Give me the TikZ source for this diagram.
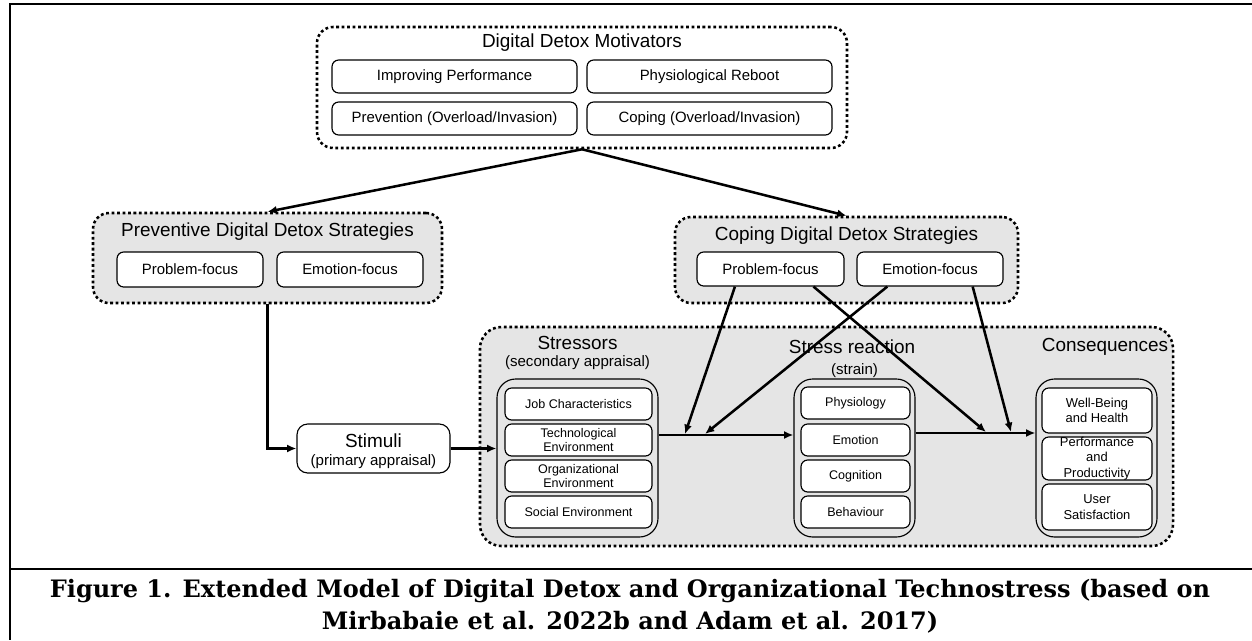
\documentclass[tikz,border=0pt]{standalone}
\usepackage{fontspec}
\setmainfont{Liberation Sans}
\newfontfamily\capfont{DejaVu Serif}
\usetikzlibrary{arrows.meta,calc}

\begin{document}
\begin{tikzpicture}[x=0.75pt,y=-0.75pt,
  sz/.style 2 args={minimum width=#1*0.75pt, minimum height=#2*0.75pt, inner sep=0pt},
  dotbox/.style={draw, line width=1.9pt, dash pattern=on 2.1pt off 2pt, rounded corners=12pt},
  panel/.style={dotbox, fill=black!10},
  ibox/.style={draw, fill=white, line width=0.85pt, rounded corners=5pt, align=center},
  cont/.style={draw, line width=0.85pt, rounded corners=14pt},
  ttl/.style={font=\fontsize{14.2pt}{16pt}\selectfont, inner sep=0pt},
  sub/.style={font=\fontsize{11.3pt}{13pt}\selectfont, inner sep=0pt},
  mtxt/.style={font=\fontsize{11.2pt}{13pt}\selectfont},
  stxt/.style={font=\fontsize{9.4pt}{11pt}\selectfont},
  ctxt/.style={font=\fontsize{9.7pt}{11.5pt}\selectfont},
  conn/.style={line width=1.9pt, -{Latex[length=7pt,width=6pt]}},
  frame/.style={line width=1.9pt}]

\useasboundingbox (0,0) rectangle (1252,640);

% page frame and caption rule
\draw[frame] (1252,4) -- (10,4) -- (10,640);
\draw[frame] (10,569) -- (1252,569);

% motivators
\node[dotbox, sz={530}{121}] (mot) at (582,87.5) {};
\node[ttl] (motT) at (582,43) {Digital Detox Motivators};
\node[ibox, mtxt, sz={245}{33}] (imp) at (454.5,76.5) {Improving Performance};
\node[ibox, mtxt, sz={245}{33}] (phy) at (709.5,76.5) {Physiological Reboot};
\node[ibox, mtxt, sz={245}{33}] (prv) at (454.5,118.5) {Prevention (Overload/Invasion)};
\node[ibox, mtxt, sz={245}{33}] (cop) at (709.5,118.5) {Coping (Overload/Invasion)};

% preventive strategies
\node[panel, sz={349}{90}] (prev) at (267.5,258) {};
\node[ttl] (prevT) at (267.5,232) {Preventive Digital Detox Strategies};
\node[ibox, mtxt, sz={146}{35}] (ppf) at (190,269.5) {Problem-focus};
\node[ibox, mtxt, sz={146}{35}] (pef) at (350,269.5) {Emotion-focus};

% coping strategies
\node[panel, sz={343}{86}] (copg) at (846.5,260) {};
\node[ttl] (copgT) at (846.5,236) {Coping Digital Detox Strategies};
\node[ibox, mtxt, sz={147}{34}] (cpf) at (770.5,269) {Problem-focus};
\node[ibox, mtxt, sz={146}{34}] (cef) at (930,269) {Emotion-focus};

% technostress process
\node[panel, rounded corners=16pt, sz={693}{219}] (big) at (826.5,436.5) {};

\node[ibox, rounded corners=8pt, sz={153}{49}] (stim) at (373.5,448.5) {};
\node[ttl] (stimT) at (373.5,441) {Stimuli};
\node[sub] (stimS) at (373.5,462) {(primary appraisal)};

\node[ttl] (strsT) at (577.5,343) {Stressors};
\node[sub] (strsS) at (577.5,363) {(secondary appraisal)};
\node[cont, sz={161}{158}] (strs) at (577.5,458) {};
\node[ibox, stxt, sz={147}{32}] (jc) at (578.5,404) {Job Characteristics};
\node[ibox, stxt, sz={147}{32}] (te) at (578.5,440) {Technological\\Environment};
\node[ibox, stxt, sz={147}{32}] (oe) at (578.5,476) {Organizational\\Environment};
\node[ibox, stxt, sz={147}{32}] (se) at (578.5,512) {Social Environment};

\node[ttl] (srT) at (852,347) {Stress reaction};
\node[sub] (srS) at (854.5,371) {(strain)};
\node[cont, sz={121}{158}] (sr) at (854.5,458) {};
\node[ibox, stxt, sz={109}{32}] (phys) at (855.5,403) {Physiology};
\node[ibox, stxt, sz={109}{32}] (emo) at (855.5,440) {Emotion};
\node[ibox, stxt, sz={109}{32}] (cog) at (855.5,476) {Cognition};
\node[ibox, stxt, sz={109}{32}] (beh) at (855.5,512) {Behaviour};

\node[ttl] (conT) at (1105,347) {Consequences};
\node[cont, sz={121}{158}] (con) at (1096.5,458) {};
\node[ibox, ctxt, sz={110}{45}] (wb) at (1097,410.5) {Well-Being\\and Health};
\node[ibox, ctxt, sz={110}{43}] (pp) at (1097,458.5) {Performance\\and\\Productivity};
\node[ibox, ctxt, sz={110}{46}] (us) at (1097,507) {User\\Satisfaction};

% caption
\node[font=\capfont\bfseries\fontsize{18pt}{24pt}\selectfont, align=center, inner sep=0pt] (cap) at (630,606)
  {Figure 1. Extended Model of Digital Detox and Organizational Technostress (based on\\Mirbabaie et al. 2022b and Adam et al. 2017)};

% connectors
\coordinate (ya) at (0,435);
\coordinate (yb) at (0,433);
\coordinate (m1) at (685,434);
\coordinate (m2) at (705,434);
\coordinate (m3) at (986,432);
\coordinate (m4) at (1011,432);

\draw[conn] (mot.south) -- (prev.north);
\draw[conn] (mot.south) -- (copg.north);
\draw[conn] (prev.south) |- (stim.west);
\draw[conn] (stim.east) -- (stim.east -| strs.west);
\draw[conn] (strs.east |- ya) -- (sr.west |- ya);
\draw[conn] (sr.east |- yb) -- (con.west |- yb);

\draw[conn] ($(cpf.south west)!0.26!(cpf.south east)$) -- (m1);
\draw[conn] ($(cpf.south west)!0.79!(cpf.south east)$) -- (m3);
\draw[conn] ($(cef.south west)!0.21!(cef.south east)$) -- (m2);
\draw[conn] ($(cef.south west)!0.79!(cef.south east)$) -- (m4);
\end{tikzpicture}
\end{document}
